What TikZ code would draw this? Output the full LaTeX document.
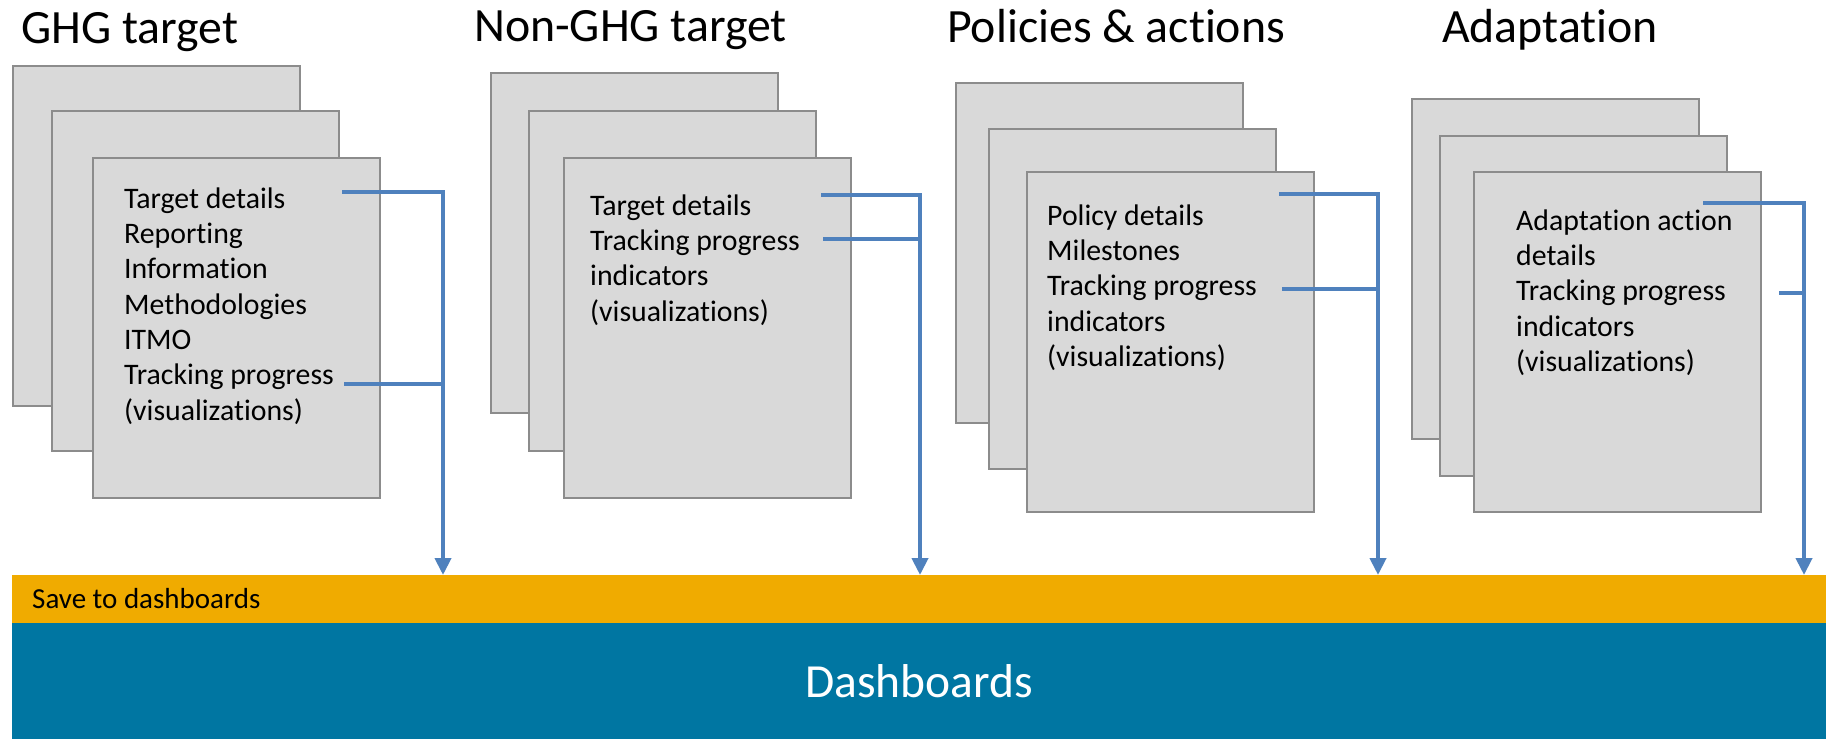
\documentclass[tikz,border=0pt]{standalone}
\usepackage{fontspec}
\setmainfont{Carlito}[Ligatures=NoCommon]
\usetikzlibrary{arrows.meta,calc}
\definecolor{boxfill}{HTML}{D9D9D9}
\definecolor{boxline}{HTML}{8C8C8C}
\definecolor{flowblue}{HTML}{4F81BD}
\definecolor{saveyellow}{HTML}{F0AB00}
\definecolor{dashblue}{HTML}{0076A2}
\begin{document}
\begin{tikzpicture}[x=1pt,y=-1pt,
  card/.style={draw=boxline, fill=boxfill, line width=2pt, anchor=north west, inner sep=0pt, minimum width=287pt, minimum height=340pt},
  title/.style={anchor=base west, inner sep=0pt, font=\fontsize{47.8}{58}\selectfont},
  body/.style={anchor=north west, inner sep=0pt, align=left, font=\fontsize{29.8}{35.3}\selectfont},
  flow/.style={draw=flowblue, line width=4pt},
  flowarrow/.style={flow, -{Triangle[length=17pt,width=16pt]}}]
\useasboundingbox (0,0) rectangle (1828,739);

% titles
\node[title] (t1) at (21,43) {GHG target};
\node[title] (t2) at (474,41) {Non-GHG target};
\node[title] (t3) at (947,42) {Policies \& actions};
\node[title] (t4) at (1442,42) {Adaptation};

% panel 1
\node[card] (g1c1) at (12,65) {};
\node[card] (g1c2) at (51,110) {};
\node[card] (g1c3) at (92,157) {};
\node[body] (g1t) at (124,183.3) {\strut Target details\\Reporting\\Information\\Methodologies\\ITMO\\Tracking progress\\(visualizations)};

% panel 2
\node[card] (g2c1) at (490,72) {};
\node[card] (g2c2) at (528,110) {};
\node[card] (g2c3) at (563,157) {};
\node[body] (g2t) at (590,190.3) {\strut Target details\\Tracking progress\\indicators\\(visualizations)};

% panel 3
\node[card] (g3c1) at (955,82) {};
\node[card] (g3c2) at (988,128) {};
\node[card] (g3c3) at (1026,171) {};
\node[body] (g3t) at (1047,200.3) {\strut Policy details\\Milestones\\Tracking progress\\indicators\\(visualizations)};

% panel 4
\node[card] (g4c1) at (1411,98) {};
\node[card] (g4c2) at (1439,135) {};
\node[card] (g4c3) at (1473,171) {};
\node[body] (g4t) at (1516,205.3) {\strut Adaptation action\\details\\Tracking progress\\indicators\\(visualizations)};

% bars
\node[fill=saveyellow, anchor=north west, inner sep=0pt, minimum width=1814pt, minimum height=48pt] (save) at (12,575) {};
\node[anchor=base west, inner sep=0pt, font=\fontsize{29}{34}\selectfont] (savelbl) at (32,608) {Save to dashboards};
\node[fill=dashblue, anchor=north west, inner sep=0pt, minimum width=1814pt, minimum height=116pt, text=white, font=\fontsize{47.5}{58}\selectfont] (dash) at (12,623) {Dashboards};

% flow coordinates
\coordinate (a1) at (342,192); \coordinate (b1) at (344,384); \coordinate (v1) at (443,0);
\coordinate (a2) at (821,195); \coordinate (b2) at (823,239); \coordinate (v2) at (920,0);
\coordinate (a3) at (1279,194); \coordinate (b3) at (1282,289); \coordinate (v3) at (1378,0);
\coordinate (a4) at (1703,203); \coordinate (b4) at (1779,293); \coordinate (v4) at (1804,0);

\foreach \i in {1,2,3,4}{
  \draw[flowarrow] (a\i) -| (v\i |- save.north);
  \draw[flow] (b\i) -- (b\i -| v\i);
}
\end{tikzpicture}
\end{document}
